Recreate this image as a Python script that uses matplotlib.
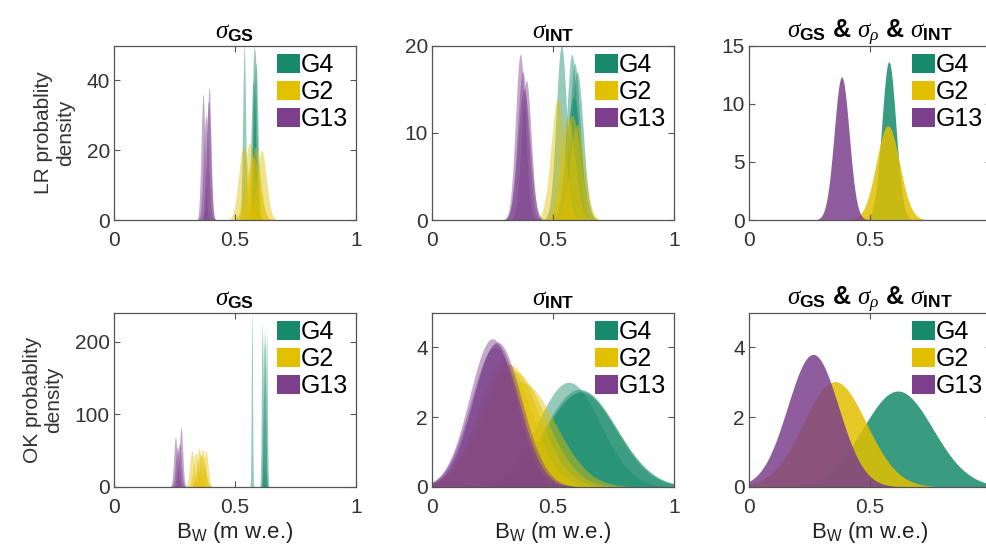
import numpy as np
import matplotlib.pyplot as plt
from matplotlib.patches import Patch

plt.rcParams['font.family'] = ['Liberation Sans', 'DejaVu Sans']
plt.rcParams['mathtext.fontset'] = 'custom'
plt.rcParams['mathtext.rm'] = 'Liberation Sans'
plt.rcParams['mathtext.bf'] = 'Liberation Sans:bold'
plt.rcParams['mathtext.it'] = 'Liberation Serif:italic'

groups = ['G4', 'G2', 'G13']
colors = ['#168a6a', '#e2c000', '#7b3f8c']

# each realisation: (mean, sd, peak density)
lr_gs_g4 = [(0.538, 0.006, 50), (0.578, 0.006, 50), (0.583, 0.007, 49), (0.587, 0.008, 45), (0.575, 0.009, 40)]
lr_gs_g2 = [(0.535, 0.02, 21), (0.56, 0.02, 22), (0.585, 0.02, 21), (0.61, 0.02, 20), (0.575, 0.025, 18)]
lr_gs_g13 = [(0.368, 0.008, 36), (0.393, 0.008, 38), (0.38, 0.01, 30), (0.39, 0.009, 34)]

lr_int_g4 = [(0.535, 0.022, 20), (0.578, 0.022, 19), (0.59, 0.022, 18), (0.6, 0.025, 17), (0.585, 0.03, 14)]
lr_int_g2 = [(0.52, 0.028, 14), (0.56, 0.03, 12), (0.58, 0.032, 12), (0.6, 0.03, 11)]
lr_int_g13 = [(0.365, 0.02, 19), (0.375, 0.022, 17), (0.39, 0.02, 16), (0.38, 0.025, 15)]

lr_all_g4 = [(0.578, 0.029, 13.6)]
lr_all_g2 = [(0.574, 0.048, 8.1)]
lr_all_g13 = [(0.383, 0.031, 12.3)]

ok_gs_g4 = [(0.570, 0.0025, 240), (0.612, 0.003, 225), (0.618, 0.003, 210),
            (0.625, 0.003, 215), (0.631, 0.003, 208), (0.622, 0.004, 200)]
ok_gs_g2 = [(0.322, 0.009, 50), (0.338, 0.01, 47), (0.352, 0.009, 54),
            (0.366, 0.01, 52), (0.38, 0.009, 50), (0.36, 0.015, 45)]
ok_gs_g13 = [(0.254, 0.007, 69), (0.277, 0.007, 82), (0.262, 0.008, 55), (0.27, 0.008, 60)]

ok_int_g4 = [(0.565, 0.13, 3.0), (0.61, 0.145, 2.8), (0.62, 0.145, 2.75), (0.615, 0.15, 2.7)]
ok_int_g2 = [(0.30, 0.11, 3.6), (0.32, 0.12, 3.5), (0.34, 0.13, 3.3), (0.37, 0.14, 3.0)]
ok_int_g13 = [(0.25, 0.095, 4.25), (0.265, 0.095, 4.1), (0.26, 0.1, 4.0), (0.27, 0.1, 4.15)]

ok_all_g4 = [(0.615, 0.145, 2.75)]
ok_all_g2 = [(0.355, 0.13, 3.02)]
ok_all_g13 = [(0.265, 0.105, 3.8)]

t_gs = r'$\sigma_{\mathbf{GS}}$'
t_int = r'$\sigma_{\mathbf{INT}}$'
t_all = r'$\sigma_{\mathbf{GS}}$ & $\sigma_\rho$ & $\sigma_{\mathbf{INT}}$'

panels = [
    [(lr_gs_g4, lr_gs_g2, lr_gs_g13), t_gs, 50, [0, 20, 40]],
    [(lr_int_g4, lr_int_g2, lr_int_g13), t_int, 20, [0, 10, 20]],
    [(lr_all_g4, lr_all_g2, lr_all_g13), t_all, 15, [0, 5, 10, 15]],
    [(ok_gs_g4, ok_gs_g2, ok_gs_g13), t_gs, 240, [0, 100, 200]],
    [(ok_int_g4, ok_int_g2, ok_int_g13), t_int, 5, [0, 2, 4]],
    [(ok_all_g4, ok_all_g2, ok_all_g13), t_all, 5, [0, 2, 4]],
]

x = np.linspace(0, 1, 4001)

fig = plt.figure(figsize=(9.86, 5.47), dpi=100)
lefts = [0.1156, 0.4381, 0.7596]
bottoms = [0.5978, 0.1097]
w, h = 0.2454, 0.319

for k, (sets, title, ymax, yt) in enumerate(panels):
    r, c = divmod(k, 3)
    ax = fig.add_axes([lefts[c], bottoms[r], w, h])
    for reals, col in zip(sets, colors):
        a = 0.85 if len(reals) == 1 else 0.45
        for mu, sd, pk in reals:
            y = pk * np.exp(-0.5 * ((x - mu) / sd) ** 2)
            ax.fill_between(x, 0, y, color=col, alpha=a, linewidth=0)
    ax.set_xlim(0, 1)
    ax.set_ylim(0, ymax)
    ax.set_xticks([0, 0.5, 1])
    # the right column is clipped by the figure edge, so its "1" is not shown
    ax.set_xticklabels(['0', '0.5', '1' if c < 2 else ''])
    ax.set_yticks(yt)
    ax.tick_params(direction='in', length=4, width=0.8, colors='#555555',
                   labelcolor='#333333', labelsize=15, top=True, right=True)
    ax.tick_params(axis='x', pad=8)
    ax.tick_params(axis='y', pad=3)
    for s in ax.spines.values():
        s.set_color('#555555')
        s.set_linewidth(0.9)
    ax.set_title(title, fontsize=18, fontweight='bold', pad=5)
    handles = [Patch(facecolor=col, edgecolor='none') for col in colors]
    ax.legend(handles, groups, loc='upper left', bbox_to_anchor=(0.675, 0.955),
              frameon=False, fontsize=18, borderpad=0, borderaxespad=0,
              handlelength=0.9, handleheight=0.75, handletextpad=0.05,
              labelspacing=0.12)
    if c == 0:
        ax.set_ylabel(('LR' if r == 0 else 'OK') + ' probablity\ndensity',
                      fontsize=15, color='#333333', labelpad=8)
    if r == 1:
        ax.set_xlabel(r'B$_{\mathrm{W}}$ (m w.e.)', fontsize=16, color='#222222', labelpad=2)

fig.savefig('out.png', dpi=100)
